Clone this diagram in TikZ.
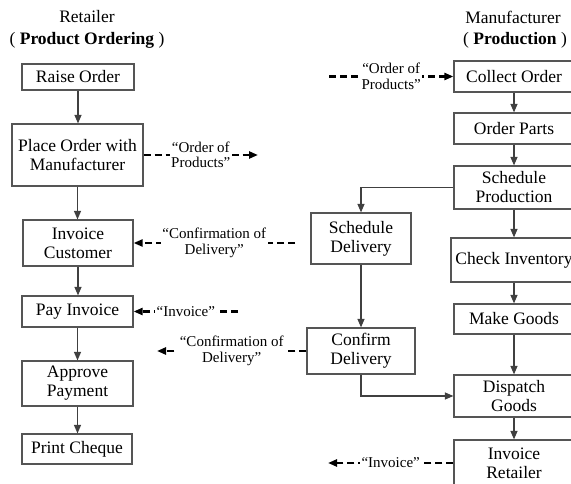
\documentclass[tikz,border=0pt]{standalone}
\usepackage{fontspec}
\setmainfont{Liberation Serif}
\usetikzlibrary{arrows.meta}
\definecolor{boxgray}{HTML}{555555}
\begin{document}
\begin{tikzpicture}[x=1pt,y=-1pt,
  stepbox/.style={draw=boxgray, line width=1.2pt, align=center, inner sep=0pt,
    font=\fontsize{17.5}{19}\selectfont},
  title/.style={font=\fontsize{17.5}{19}\selectfont},
  flow/.style={draw=black!75, line width=1.2pt, -{Triangle[length=8.5pt,width=7pt]}},
  msg/.style={draw=black, line width=2.3pt, dash pattern=on 7pt off 4pt,
    -{Triangle[length=9pt,width=7pt]}},
  msglabel/.style={fill=white, align=center, inner sep=1.5pt,
    font=\fontsize{15}{15.5}\selectfont}]
\useasboundingbox (0,0) rectangle (571,484);
\clip (0,0) rectangle (571,484);

% column headings
\node[title] (rt)  at (87,17)  {Retailer};
\node[title] (rt2) at (87,40)  {( \textbf{Product Ordering} )};
\node[title] (mt)  at (513,17) {Manufacturer};
\node[title] (mt2) at (515,40) {( \textbf{Production} )};

% retailer steps
\node[stepbox, minimum width=112, minimum height=26] (raise)   at (78,77)      {Raise Order};
\node[stepbox, minimum width=131, minimum height=62] (place)   at (77.5,155)   {Place Order with\\Manufacturer};
\node[stepbox, minimum width=110, minimum height=46] (invcust) at (78,243)     {Invoice\\Customer};
\node[stepbox, minimum width=111, minimum height=31] (pay)     at (77.5,311.5) {Pay Invoice};
\node[stepbox, minimum width=111, minimum height=45] (approve) at (77.5,383.5) {Approve\\Payment};
\node[stepbox, minimum width=110, minimum height=30] (cheque)  at (77,449)     {Print Cheque};

% manufacturer steps
\node[stepbox, minimum width=120, minimum height=31] (collect)   at (514,76.5)  {Collect Order};
\node[stepbox, minimum width=120, minimum height=31] (parts)     at (514,128.5) {Order Parts};
\node[stepbox, minimum width=120, minimum height=43] (schedprod) at (514,187.5) {Schedule\\Production};
\node[stepbox, minimum width=126, minimum height=44] (checkinv)  at (514,260)   {Check Inventory};
\node[stepbox, minimum width=120, minimum height=30] (make)      at (514,319)   {Make Goods};
\node[stepbox, minimum width=120, minimum height=42] (dispatch)  at (514,396)   {Dispatch\\Goods};
\node[stepbox, minimum width=120, minimum height=46] (invret)    at (514,463)   {Invoice\\Retailer};
\node[stepbox, minimum width=100, minimum height=51] (scheddel)  at (361,238.5) {Schedule\\Delivery};
\node[stepbox, minimum width=108, minimum height=46] (confdel)   at (361,351)   {Confirm\\Delivery};

% retailer flow
\draw[flow] (raise.south) -- (raise.south |- place.north);
\draw[flow] (place.south) -- (place.south |- invcust.north);
\draw[flow] (invcust.south) -- (invcust.south |- pay.north);
\draw[flow] (pay.south) -- (pay.south |- approve.north);
\draw[flow] (approve.south) -- (approve.south |- cheque.north);

% manufacturer flow
\draw[flow] (collect.south) -- (collect.south |- parts.north);
\draw[flow] (parts.south) -- (parts.south |- schedprod.north);
\draw[flow] (schedprod.south) -- (schedprod.south |- checkinv.north);
\draw[flow] (checkinv.south) -- (checkinv.south |- make.north);
\draw[flow] (make.south) -- (make.south |- dispatch.north);
\draw[flow] (dispatch.south) -- (dispatch.south |- invret.north);
\draw[flow] (schedprod.west) -| (scheddel.north);
\draw[flow] (scheddel.south) -- (confdel.north);
\draw[flow] (confdel.south) |- (dispatch.west);

% free ends of the messages
\coordinate (orderout) at (258,155);
\coordinate (orderin)  at (329,76.5);
\coordinate (confin)   at (295,243);
\coordinate (invin)    at (238,311.5);
\coordinate (confout)  at (157,351);
\coordinate (invout)   at (328,463);

% messages between the two parties
\draw[msg] (place.east) -- node[msglabel] (l1) {“Order of\\Products”} (orderout);
\draw[msg] (orderin) -- node[msglabel] (l2) {“Order of\\Products”} (collect.west);
\draw[msg] (confin) -- node[msglabel] (l3) {“Confirmation of\\Delivery”} (invcust.east);
\draw[msg] (invin) -- node[msglabel] (l4) {“Invoice”} (pay.east);
\draw[msg] (confdel.west) -- node[msglabel] (l5) {“Confirmation of\\Delivery”} (confout);
\draw[msg] (invret.west) -- node[msglabel] (l6) {“Invoice”} (invout);
\end{tikzpicture}
\end{document}
